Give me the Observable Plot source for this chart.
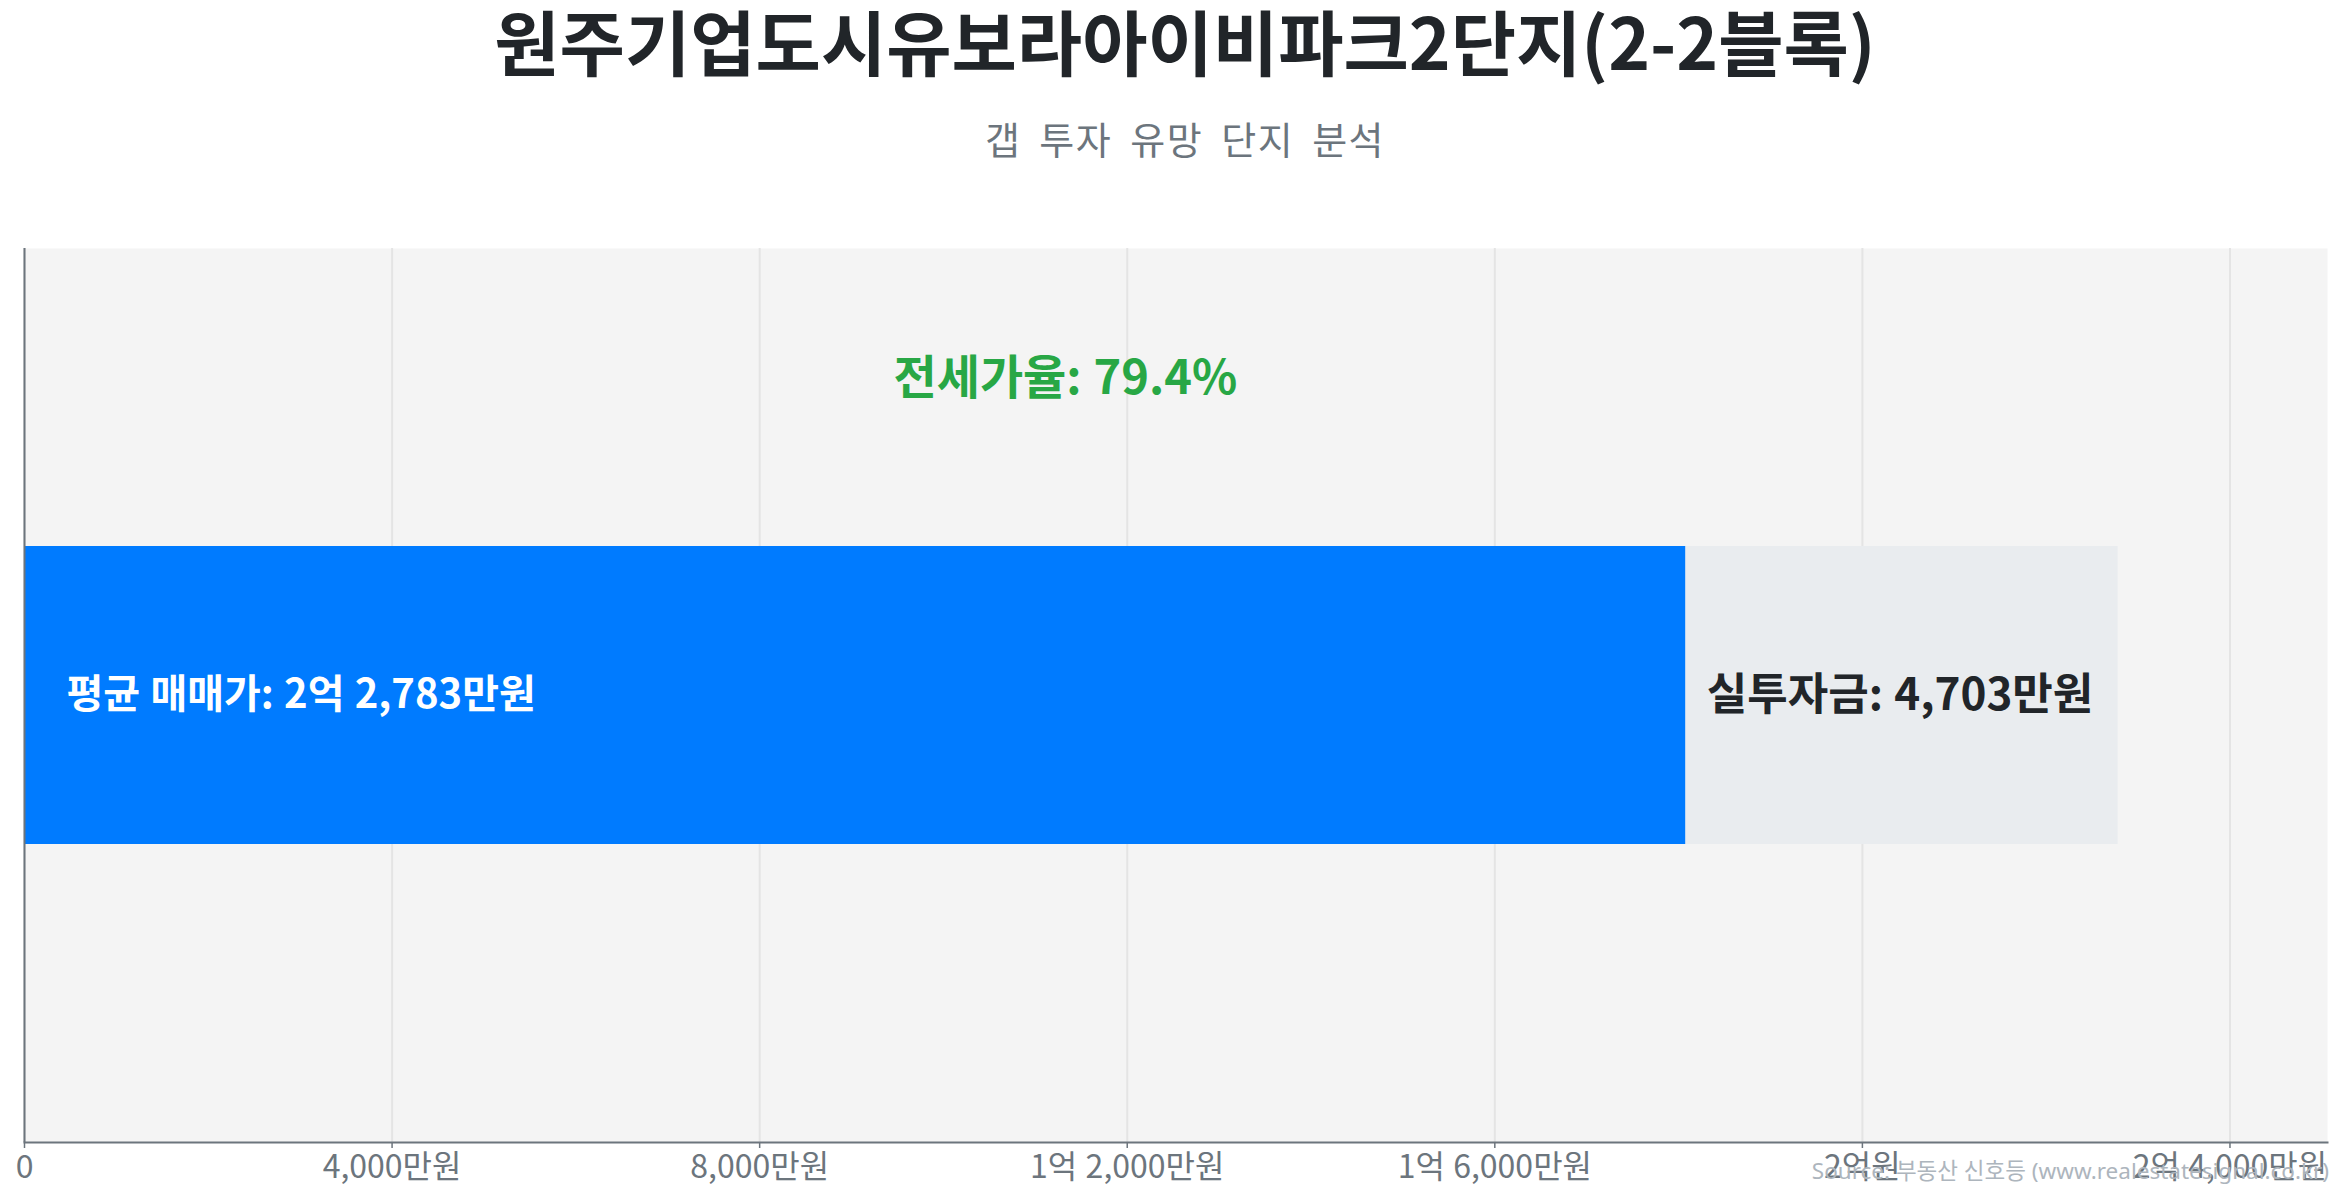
<!DOCTYPE html>
<html>
<head>
<meta charset="utf-8">
<script src="https://cdn.jsdelivr.net/npm/d3@7"></script>
<script src="https://cdn.jsdelivr.net/npm/@observablehq/plot@0.6"></script>
<style>
  html, body { margin: 0; padding: 0; background: #ffffff; width: 2345px; height: 1201px; overflow: hidden; }
  body { position: relative; font-family: "Noto Sans CJK KR", "Noto Sans", sans-serif; }
  #title { position: absolute; left: 0; width: 2370px; top: 4px; height: 80px; line-height: 70px; text-align: center;
           font-size: 71px; font-weight: 700; color: #212529; }
  #subtitle { position: absolute; left: 0; width: 2370px; top: 112px; height: 52px; line-height: 52px; text-align: center;
              font-size: 38px; font-weight: 400; color: #6c757d; letter-spacing: 1.5px; word-spacing: 8px; }
  #chart { position: absolute; left: 0; top: 248px; }
  #source { position: absolute; right: 16px; top: 1153px; font-size: 22.5px; color: #adb5bd; font-family: "Noto Sans", "Noto Sans CJK KR", sans-serif; }
</style>
</head>
<body>
<div id="title"></div>
<div id="subtitle"></div>
<div id="chart"></div>
<div id="source"></div>
<script>
// ---- data ----
const titleText = "원주기업도시유보라아이비파크2단지(2-2블록)";
const subtitleText = "갭 투자 유망 단지 분석";
const sourceText = "Source: 부동산 신호등 (www.realestatesignal.co.kr)";
const categories = ["단지"];
const segmentNames = ["전세가", "실투자금"];
const segmentStarts = [0, 18080];      // 만원
const segmentEnds = [18080, 22783];    // 만원
const segmentColors = ["#007bff", "#e9ecef"];
const salePrice = 22783;               // 평균 매매가 (만원)
const gapAmount = 4703;                // 실투자금 (만원)
const jeonseRatio = 79.4;              // 전세가율 (%)
const tickValues = [0, 4000, 8000, 12000, 16000, 20000, 24000];
const tickLabels = ["0", "4,000만원", "8,000만원", "1억 2,000만원", "1억 6,000만원", "2억원", "2억 4,000만원"];
const saleLabel = "평균 매매가: 2억 2,783만원";
const gapLabel = "실투자금: 4,703만원";
const ratioLabel = "전세가율: 79.4%";

document.getElementById("title").textContent = titleText;
document.getElementById("subtitle").textContent = subtitleText;
document.getElementById("source").textContent = sourceText;

const segments = segmentNames.map((n, i) => ({name: n, x1: segmentStarts[i], x2: segmentEnds[i], cat: categories[0], color: segmentColors[i]}));
const labels = [{x: 0, cat: categories[0], text: saleLabel}];
const gapLabels = [{x: (segmentStarts[1] + segmentEnds[1]) / 2, cat: categories[0], text: gapLabel}];
const ratioLabels = [{x: salePrice / 2, cat: categories[0], text: ratioLabel}];

const chart = Plot.plot({
  width: 2345,
  height: 953,
  marginLeft: 24,
  marginRight: 18,
  marginTop: 0,
  marginBottom: 59,
  style: {fontFamily: "'Noto Sans CJK KR', sans-serif", background: "transparent", overflow: "visible", wordSpacing: "0.12em"},
  x: {domain: [0, salePrice * 1.1]},
  y: {domain: categories, padding: 0.5, axis: null},
  marks: [
    Plot.frame({fill: "#f4f4f4", stroke: null}),
    Plot.gridX(tickValues, {stroke: "#e4e4e4", strokeOpacity: 1, strokeWidth: 2}),
    Plot.barX(segments, {x1: "x1", x2: "x2", y: "cat", fill: "color"}),
    Plot.axisX(tickValues, {
      tickFormat: (d) => tickLabels[tickValues.indexOf(d)],
      tickSize: 6, tickPadding: 7, fontSize: 32, color: "#6c757d", stroke: "#6c757d", strokeWidth: 1.5,
      label: null
    }),
    Plot.frame({anchor: "bottom", stroke: "#6c757d", strokeWidth: 2}),
    Plot.ruleX([0], {stroke: "#6c757d", strokeWidth: 2}),
    Plot.text(labels, {x: "x", y: "cat", text: "text", textAnchor: "start", dx: 42, fill: "#ffffff", fontSize: 40, fontWeight: "bold"}),
    Plot.text(gapLabels, {x: "x", y: "cat", text: "text", textAnchor: "middle", dx: -2, fill: "#212529", fontSize: 44, fontWeight: "bold"}),
    Plot.text(ratioLabels, {x: "x", y: "cat", text: "text", textAnchor: "middle", dx: -6, dy: -317, fill: "#28a745", fontSize: 47, fontWeight: "bold"})
  ]
});
document.getElementById("chart").appendChild(chart);
</script>
</body>
</html>
